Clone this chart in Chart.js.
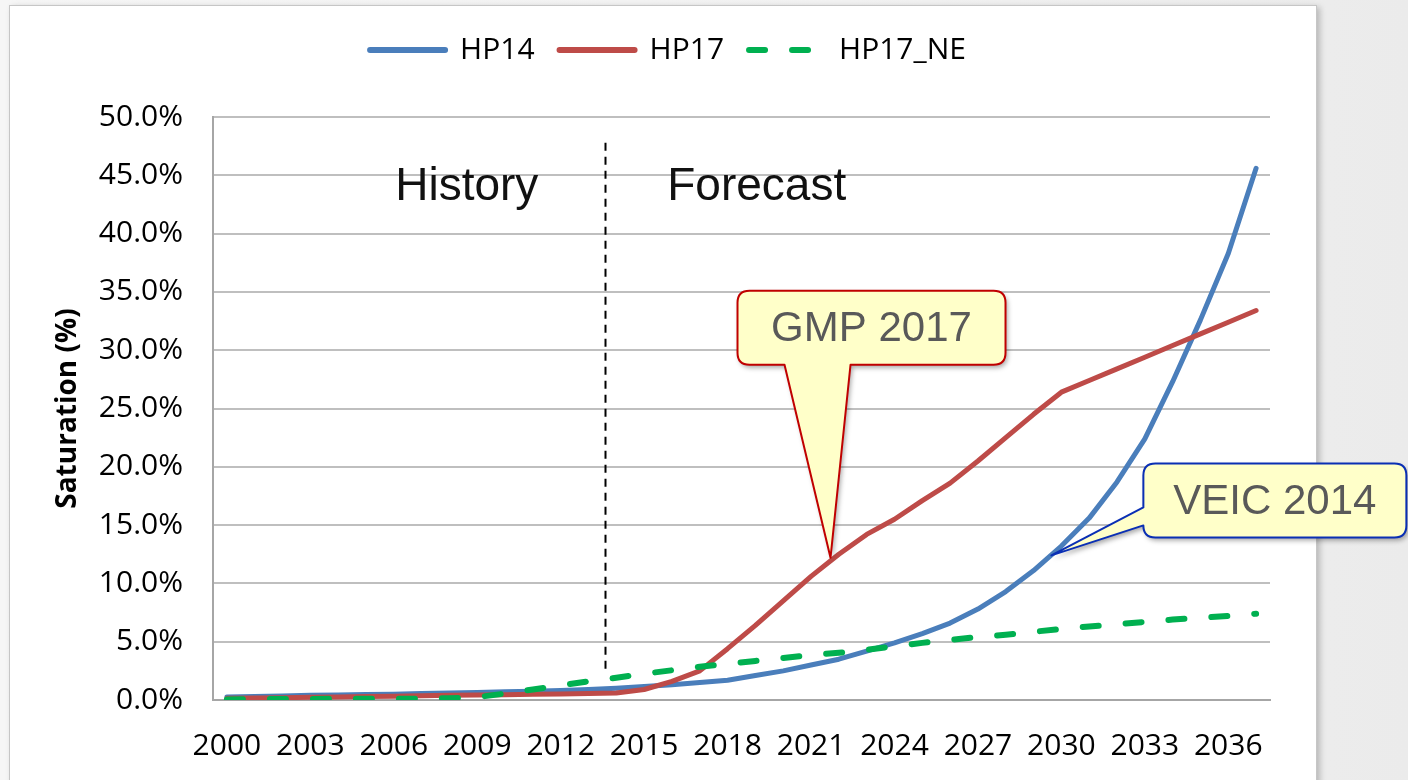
<!DOCTYPE html>
<html>
<head>
<meta charset="utf-8">
<script src="https://cdn.jsdelivr.net/npm/chart.js@4.4.1/dist/chart.umd.min.js"></script>
<style>
  html, body { margin: 0; padding: 0; width: 1408px; height: 780px; overflow: hidden;
    background: linear-gradient(to right, #f6f6f6 0%, #f2f2f2 60%, #ebebeb 100%); }
  #box { position: absolute; left: 9px; top: 5px; width: 1306px; height: 800px; background: #fff;
    border: 1px solid #c6c6c6; box-shadow: 3px 2px 6px rgba(0,0,0,0.22); }
  #wrap { position: absolute; left: 0; top: 0; width: 1408px; height: 780px; }
</style>
</head>
<body>
<div id="box"></div>
<div id="wrap"><canvas id="c" width="1408" height="780"></canvas></div>
<script>
// ---------- data ----------
const years = ['2000','2001','2002','2003','2004','2005','2006','2007','2008','2009',
  '2010','2011','2012','2013','2014','2015','2016','2017','2018','2019',
  '2020','2021','2022','2023','2024','2025','2026','2027','2028','2029',
  '2030','2031','2032','2033','2034','2035','2036','2037'];
const xTickLabels = ['2000','2003','2006','2009','2012','2015','2018','2021','2024','2027','2030','2033','2036'];
const yTicks = [0, 5, 10, 15, 20, 25, 30, 35, 40, 45, 50];
const hp14 = [0.25, 0.3, 0.35, 0.4, 0.43, 0.47, 0.5, 0.55, 0.6, 0.65,
  0.7, 0.75, 0.82, 0.9, 1.0, 1.15, 1.3, 1.5, 1.7, 2.1,
  2.5, 3.0, 3.5, 4.2, 4.9, 5.7, 6.6, 7.8, 9.3, 11.1,
  13.2, 15.6, 18.7, 22.4, 27.3, 32.6, 38.3, 45.6];
const hp17 = [0.15, 0.18, 0.2, 0.23, 0.26, 0.3, 0.33, 0.36, 0.4, 0.43,
  0.46, 0.5, 0.52, 0.55, 0.6, 0.9, 1.6, 2.5, 4.4, 6.4,
  8.5, 10.6, 12.5, 14.2, 15.5, 17.1, 18.6, 20.5, 22.5, 24.5,
  26.4, 27.4, 28.4, 29.4, 30.4, 31.4, 32.4, 33.4];
const hp17ne = [0.05, 0.07, 0.08, 0.09, 0.1, 0.1, 0.11, 0.12, 0.15, 0.25,
  0.55, 0.9, 1.25, 1.6, 1.9, 2.25, 2.55, 2.85, 3.1, 3.35,
  3.6, 3.85, 4.05, 4.3, 4.6, 4.9, 5.15, 5.4, 5.6, 5.85,
  6.1, 6.3, 6.5, 6.7, 6.9, 7.05, 7.2, 7.4];
const seriesNames = ['HP14', 'HP17', 'HP17_NE'];
const seriesColors = ['#4a7ebb', '#be4b48', '#00b050'];

// ---------- annotations (anchored to scale values) ----------
const divider = { index: 13.6, top: 47.8, bottom: 2.4 };
const periodLabels = [
  { text: 'History', index: 6.05, value: 42.9 },
  { text: 'Forecast', index: 15.83, value: 42.9 }
];
const callouts = [
  { text: 'GMP 2017', index: 21.7, value: 12.2, border: '#c00000',
    box: { l: -93, r: 175, t: -267, b: -193 }, base: { side: 'bottom', a: -46, b: 20 } },
  { text: 'VEIC 2014', index: 29.64, value: 12.4, border: '#0a2fb4',
    box: { l: 92, r: 355, t: -92, b: -18 }, base: { side: 'left', a: -48, b: -30 } }
];

const LEGEND_HEIGHT = 107;

const legendSpacer = {
  id: 'legendSpacer',
  afterInit(chart) {
    const lg = chart.legend;
    if (!lg) return;
    const orig = lg.fit.bind(lg);
    lg.fit = function () { orig(); this.height = LEGEND_HEIGHT; };
  }
};

const annotationPlugin = {
  id: 'annot',
  afterDatasetsDraw(chart) {
    const { ctx, scales: { x, y } } = chart;
    ctx.save();
    // divider
    const dx = Math.round(x.getPixelForValue(divider.index)) + 0.5;
    ctx.strokeStyle = '#000';
    ctx.lineWidth = 2;
    ctx.setLineDash([8, 6]);
    ctx.beginPath();
    ctx.moveTo(dx, y.getPixelForValue(divider.top));
    ctx.lineTo(dx, y.getPixelForValue(divider.bottom));
    ctx.stroke();
    ctx.setLineDash([]);
    // period labels
    ctx.fillStyle = '#111';
    ctx.font = '46px "Liberation Sans", Arial, sans-serif';
    ctx.textAlign = 'left';
    ctx.textBaseline = 'alphabetic';
    periodLabels.forEach(p => ctx.fillText(p.text, x.getPixelForValue(p.index), y.getPixelForValue(p.value)));
    // callouts
    callouts.forEach(c => {
      const tx = x.getPixelForValue(c.index), ty = y.getPixelForValue(c.value);
      const L = tx + c.box.l, R = tx + c.box.r, T = ty + c.box.t, B = ty + c.box.b, r = 12;
      ctx.beginPath();
      ctx.moveTo(L + r, T);
      ctx.lineTo(R - r, T);
      ctx.quadraticCurveTo(R, T, R, T + r);
      ctx.lineTo(R, B - r);
      ctx.quadraticCurveTo(R, B, R - r, B);
      if (c.base.side === 'bottom') {
        ctx.lineTo(tx + c.base.b, B);
        ctx.lineTo(tx, ty);
        ctx.lineTo(tx + c.base.a, B);
      }
      ctx.lineTo(L + r, B);
      ctx.quadraticCurveTo(L, B, L, B - r);
      if (c.base.side === 'left') {
        ctx.lineTo(L, ty + c.base.b);
        ctx.lineTo(tx, ty);
        ctx.lineTo(L, ty + c.base.a);
      }
      ctx.lineTo(L, T + r);
      ctx.quadraticCurveTo(L, T, L + r, T);
      ctx.closePath();
      ctx.save();
      ctx.shadowColor = 'rgba(0,0,0,0.35)';
      ctx.shadowBlur = 5;
      ctx.shadowOffsetX = 2;
      ctx.shadowOffsetY = 3;
      ctx.fillStyle = '#ffffc9';
      ctx.fill();
      ctx.restore();
      ctx.lineWidth = 2;
      ctx.lineJoin = 'round';
      ctx.strokeStyle = c.border;
      ctx.stroke();
      ctx.fillStyle = '#595959';
      ctx.font = '42px "Liberation Sans", Arial, sans-serif';
      ctx.textAlign = 'center';
      ctx.textBaseline = 'middle';
      ctx.fillText(c.text, (L + R) / 2, (T + B) / 2 + 2);
    });
    ctx.restore();
  }
};

const datasets = [hp14, hp17, hp17ne].map((vals, i) => ({
  label: seriesNames[i],
  data: vals,
  borderColor: seriesColors[i],
  backgroundColor: seriesColors[i],
  borderWidth: i === 2 ? 6 : 5,
  borderDash: i === 2 ? [16, 27] : [],
  borderCapStyle: 'round',
  borderJoinStyle: 'round',
  pointRadius: 0,
  pointHoverRadius: 0,
  tension: 0,
  fill: false,
  order: 2 - i
}));

Chart.defaults.font.family = '"Open Sans", "DejaVu Sans", sans-serif';

new Chart(document.getElementById('c'), {
  type: 'line',
  data: { labels: years, datasets },
  options: {
    responsive: false,
    animation: false,
    events: [],
    layout: { padding: { top: 10, right: 138, bottom: 0, left: 66 } },
    plugins: {
      tooltip: { enabled: false },
      legend: {
        position: 'top',
        labels: {
          usePointStyle: true,
          pointStyle: 'line',
          pointStyleWidth: 75,
          boxHeight: 6,
          padding: 25,
          color: '#000',
          font: { size: 30 },
          sort: (a, b) => a.datasetIndex - b.datasetIndex,
          generateLabels: (chart) => Chart.defaults.plugins.legend.labels.generateLabels(chart).map(item => {
            const ds = chart.data.datasets[item.datasetIndex];
            return Object.assign(item, {
              strokeStyle: ds.borderColor,
              fillStyle: ds.borderColor,
              lineWidth: 6,
              lineDash: ds.borderDash,
              lineCap: 'round',
              pointStyle: 'line'
            });
          })
        }
      }
    },
    scales: {
      x: {
        offset: true,
        grid: { display: false, drawTicks: false },
        border: { display: true, color: '#a6a6a6', width: 2 },
        ticks: {
          autoSkip: false, maxRotation: 0, minRotation: 0,
          padding: 28, color: '#000', font: { size: 30 },
          callback: function (v) { const l = this.getLabelForValue(v); return xTickLabels.includes(l) ? l : ''; }
        },
        afterFit: s => { s.height = 80; }
      },
      y: {
        min: 0, max: 50,
        afterBuildTicks: s => { s.ticks = yTicks.map(v => ({ value: v })); },
        grid: { color: '#bfbfbf', lineWidth: 2, drawTicks: false },
        border: { display: true, color: '#a6a6a6', width: 2 },
        ticks: { padding: 30, color: '#000', font: { size: 30 }, callback: v => v.toFixed(1) + '%' },
        title: { display: true, text: 'Saturation (%)', color: '#000',
          font: { size: 28, weight: 'bold' }, padding: { top: -15, bottom: 0 } },
        afterFit: s => { s.width = 147; }
      }
    }
  },
  plugins: [legendSpacer, annotationPlugin]
});
</script>
</body>
</html>
